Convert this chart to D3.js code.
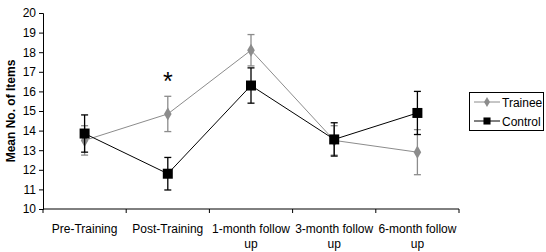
<!DOCTYPE html>
<html lang="en">
  <head>
    <meta charset="UTF-8" />
    <title>Mean No. of Items</title>
    <script src="https://d3js.org/d3.v7.min.js"></script>
    <style>
      body { margin: 0; background: #fff; }
      text { font-family: Arial, "Liberation Sans", sans-serif; }
    </style>
  </head>
  <body>
    <script>
      const width = 546, height = 252;

      const categories = [["Pre-Training"], ["Post-Training"], ["1-month follow", "up"], ["3-month follow", "up"], ["6-month follow", "up"]];
      const traineeMean = [13.5, 14.85, 18.1, 13.5, 12.9];
      const traineeErr = [0.75, 0.9, 0.8, 0.75, 1.15];
      const controlMean = [13.85, 11.8, 16.3, 13.55, 14.9];
      const controlErr = [0.95, 0.83, 0.9, 0.85, 1.1];
      const yTicks = [10, 11, 12, 13, 14, 15, 16, 17, 18, 19, 20];

      const svg = d3.select("body").append("svg")
        .attr("width", width).attr("height", height);

      const x = d3.scaleBand().domain(d3.range(categories.length)).range([43, 459]);
      const y = d3.scaleLinear().domain([10, 20]).range([209, 13]);

      // y axis
      const yAxis = svg.append("g").attr("transform", "translate(43,0)")
        .call(d3.axisLeft(y).tickValues(yTicks).tickSize(4).tickPadding(3));
      yAxis.selectAll("text").attr("font-size", 12).attr("fill", "#000");
      yAxis.selectAll("line, path").attr("stroke", "#000");

      // x axis
      const xAxis = svg.append("g").attr("transform", "translate(0,209)");
      xAxis.append("line").attr("x1", 43).attr("x2", 459).attr("stroke", "#000");
      d3.range(categories.length + 1).forEach(function (i) {
        const xx = i < categories.length ? x(i) : x.range()[1];
        xAxis.append("line").attr("x1", xx).attr("x2", xx).attr("y1", 0).attr("y2", 4).attr("stroke", "#000");
      });
      categories.forEach(function (lines, i) {
        const t = xAxis.append("text").attr("text-anchor", "middle").attr("font-size", 12)
          .attr("x", x(i) + x.bandwidth() / 2).attr("y", 24);
        lines.forEach(function (l, j) {
          t.append("tspan").attr("x", x(i) + x.bandwidth() / 2).attr("dy", j === 0 ? 0 : 15).text(l);
        });
      });

      svg.append("text")
        .attr("transform", "translate(15,111) rotate(-90)")
        .attr("text-anchor", "middle").attr("font-size", 12).attr("font-weight", "bold")
        .text("Mean No. of Items");

      const cx = function (i) { return x(i) + x.bandwidth() / 2; };

      function drawSeries(means, errs, color, marker) {
        const g = svg.append("g");
        const line = d3.line().x(function (d, i) { return cx(i); }).y(function (d) { return y(d); });
        g.append("path").datum(means).attr("d", line).attr("fill", "none").attr("stroke", color).attr("stroke-width", 1);
        means.forEach(function (m, i) {
          const lo = y(m - errs[i]), hi = y(m + errs[i]);
          g.append("line").attr("x1", cx(i)).attr("x2", cx(i)).attr("y1", lo).attr("y2", hi).attr("stroke", color).attr("stroke-width", 1.3);
          [lo, hi].forEach(function (yy) {
            g.append("line").attr("x1", cx(i) - 3.5).attr("x2", cx(i) + 3.5).attr("y1", yy).attr("y2", yy).attr("stroke", color).attr("stroke-width", 1.3);
          });
        });
        g.selectAll(".pt").data(means).enter().append("path")
          .attr("transform", function (d, i) { return "translate(" + cx(i) + "," + y(d) + ")"; })
          .attr("d", marker).attr("fill", color);
      }

      const diamond = d3.symbol().type(d3.symbolDiamond).size(50)();
      const square = d3.symbol().type(d3.symbolSquare).size(100)();

      drawSeries(traineeMean, traineeErr, "#8c8c8c", diamond);
      drawSeries(controlMean, controlErr, "#000", square);

      // significance marker
      svg.append("text").attr("x", cx(1)).attr("y", y(16.05)).attr("text-anchor", "middle")
        .attr("font-size", 25).text("*");

      // legend
      const lg = svg.append("g");
      lg.append("rect").attr("x", 469.5).attr("y", 92.5).attr("width", 74).attr("height", 38)
        .attr("fill", "#fff").attr("stroke", "#000");
      [["Trainee", "#8c8c8c", 102], ["Control", "#000", 121]].forEach(function (r) {
        lg.append("line").attr("x1", 474).attr("x2", 500).attr("y1", r[2]).attr("y2", r[2]).attr("stroke", r[1]);
        lg.append("path").attr("transform", "translate(487," + r[2] + ")")
          .attr("d", r[1] === "#000" ? d3.symbol().type(d3.symbolSquare).size(50)() : d3.symbol().type(d3.symbolDiamond).size(30)())
          .attr("fill", r[1]);
        lg.append("text").attr("x", 502).attr("y", r[2] + 4.5).attr("font-size", 12).text(r[0]);
      });
    </script>
  </body>
</html>
